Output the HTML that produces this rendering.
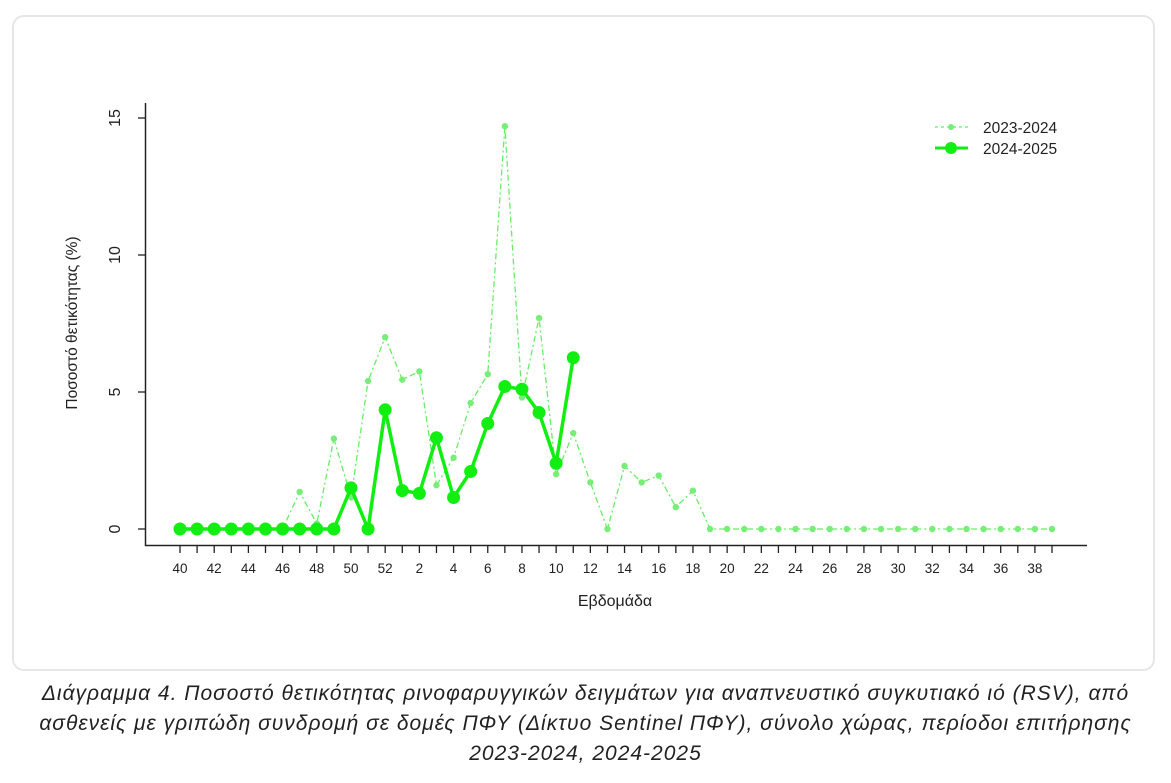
<!DOCTYPE html>
<html><head><meta charset="utf-8"><style>
body{margin:0;width:1171px;height:783px;background:#fff;font-family:"Liberation Sans",sans-serif;position:relative;overflow:hidden}
.card{position:absolute;left:12px;top:15px;width:1143px;height:656px;border:2px solid #e6e6e6;border-radius:12px;box-sizing:border-box}
.cap{position:absolute;left:0;top:679px;width:1171px;text-align:center;font-style:italic;font-size:21px;letter-spacing:1px;line-height:30px;color:#222;font-family:"Liberation Sans","DejaVu Sans",sans-serif;white-space:nowrap}
</style></head><body>
<div class="card"></div>
<svg id="chart" width="1171" height="783" style="position:absolute;left:0;top:0"></svg>
<div class="cap">Διάγραμμα 4. Ποσοστό θετικότητας ρινοφαρυγγικών δειγμάτων για αναπνευστικό συγκυτιακό ιό (RSV), από<br>ασθενείς με γριπώδη συνδρομή σε δομές ΠΦΥ (Δίκτυο Sentinel ΠΦΥ), σύνολο χώρας, περίοδοι επιτήρησης<br>2023-2024, 2024-2025</div>
<script>
const weeks=[40,41,42,43,44,45,46,47,48,49,50,51,52,1,2,3,4,5,6,7,8,9,10,11,12,13,14,15,16,17,18,19,20,21,22,23,24,25,26,27,28,29,30,31,32,33,34,35,36,37,38,39];
const s2324=[0,0,0,0,0,0,0,1.35,0.2,3.3,1.15,5.4,7.0,5.45,5.75,1.6,2.6,4.6,5.65,14.7,4.8,7.7,2.0,3.5,1.7,0,2.3,1.7,1.95,0.8,1.4,0,0,0,0,0,0,0,0,0,0,0,0,0,0,0,0,0,0,0,0,0];
const s2425=[0,0,0,0,0,0,0,0,0,0,1.5,0,4.35,1.4,1.3,3.33,1.15,2.1,3.85,5.2,5.1,4.25,2.4,6.25];
const yTicks=[0,5,10,15];
const NS="http://www.w3.org/2000/svg";
const svg=document.getElementById('chart');
const X=i=>180+i*(1052-180)/51;
const Y=v=>529-v*(529-118)/15;
function mk(t,a){const e=document.createElementNS(NS,t);for(const k in a)e.setAttribute(k,a[k]);svg.appendChild(e);return e;}
let e;
e=mk('path',{d:'M145.5,103V545.5H1087',fill:'none',stroke:'#222','stroke-width':1.5});


yTicks.forEach(v=>{
 e=mk('line',{x1:138,x2:145.5,y1:Y(v),y2:Y(v),stroke:'#222','stroke-width':1.3});
 
 
 e=mk('text',{x:120,y:Y(v),transform:`rotate(-90 120 ${Y(v)})`,'text-anchor':'middle','font-size':16,fill:'#222'});e.textContent=v;
 
 
});
weeks.forEach((w,i)=>{
 e=mk('line',{x1:X(i),x2:X(i),y1:545.5,y2:553,stroke:'#222','stroke-width':1.3});
 
 
 if(i%2==0){e=mk('text',{x:X(i),y:573,'text-anchor':'middle','font-size':13.5,fill:'#222'});e.textContent=w;
 
 }
});
e=mk('text',{x:615,y:606,'text-anchor':'middle','font-size':16,fill:'#222'});e.textContent='Εβδομάδα';


e=mk('text',{x:77,y:323,transform:'rotate(-90 77 323)','text-anchor':'middle','font-size':15.5,fill:'#222'});e.textContent='Ποσοστό θετικότητας (%)';


e=mk('polyline',{points:s2324.map((v,i)=>X(i)+','+Y(v)).join(' '),fill:'none',stroke:'#66ee66','stroke-width':1.3,'stroke-dasharray':'6 3 2 3'});


s2324.forEach((v,i)=>{e=mk('circle',{cx:X(i),cy:Y(v),r:3.2,fill:'#77ee77'});
 
 });
e=mk('polyline',{points:s2425.map((v,i)=>X(i)+','+Y(v)).join(' '),fill:'none',stroke:'#11ee11','stroke-width':3.5});


s2425.forEach((v,i)=>{e=mk('circle',{cx:X(i),cy:Y(v),r:6.5,fill:'#11ee11'});
 
 });
e=mk('line',{x1:935,x2:968,y1:127,y2:127,stroke:'#66ee66','stroke-width':1.2,'stroke-dasharray':'3 3'});


mk('circle',{cx:951,cy:127,r:3,fill:'#77ee77'});
e=mk('text',{x:983,y:133,'font-size':15.5,fill:'#222'});e.textContent='2023-2024';


e=mk('line',{x1:935,x2:968,y1:148,y2:148,stroke:'#11ee11','stroke-width':3});


mk('circle',{cx:951,cy:148,r:6,fill:'#11ee11'});
e=mk('text',{x:983,y:154,'font-size':15.5,fill:'#222'});e.textContent='2024-2025';


</script>
</body></html>
